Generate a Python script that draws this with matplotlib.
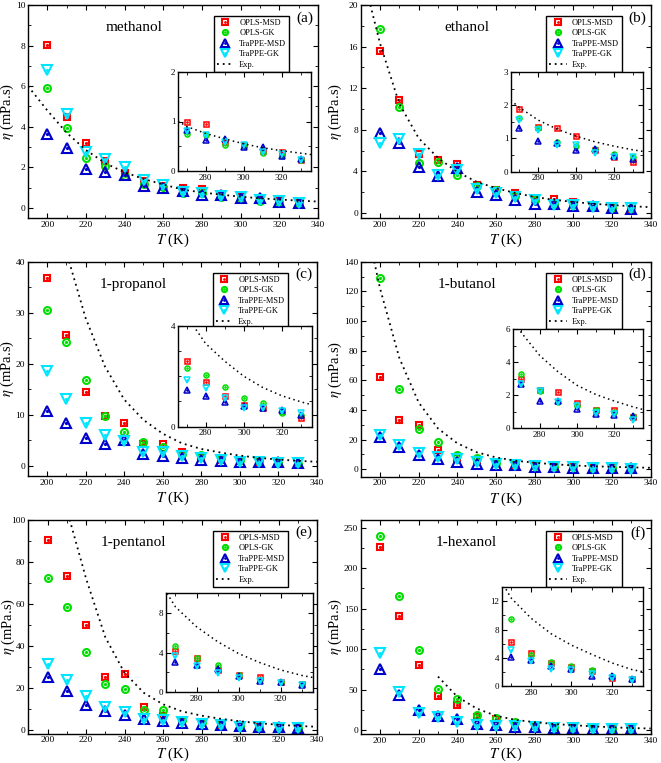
import matplotlib
matplotlib.use("Agg")
import matplotlib.pyplot as plt
from matplotlib.ticker import MultipleLocator
from matplotlib.legend_handler import HandlerTuple

plt.rcParams['font.family'] = ['Liberation Serif', 'DejaVu Serif']
plt.rcParams['mathtext.fontset'] = 'stix'

# ---------------- data ----------------
T = [200, 210, 220, 230, 240, 250, 260, 270, 280, 290, 300, 310, 320, 330]
series_labels = ['OPLS-MSD', 'OPLS-GK', 'TraPPE-MSD', 'TraPPE-GK']
panel_names = ['methanol', 'ethanol', '1-propanol', '1-butanol', '1-pentanol', '1-hexanol']
panel_letters = ['(a)', '(b)', '(c)', '(d)', '(e)', '(f)']

meth_opls_msd = [8.05, 4.5, 3.2, 2.3, 1.7, 1.3, 1.1, 0.98, 0.95, 0.58, 0.53, 0.41, 0.38, 0.22]
meth_opls_gk = [5.92, 3.93, 2.45, 2.05, 1.55, 1.2, 1.05, 0.74, 0.73, 0.53, 0.5, 0.36, 0.31, 0.22]
meth_trappe_msd = [3.65, 2.95, 1.9, 1.75, 1.62, 1.1, 1.0, 0.83, 0.63, 0.64, 0.49, 0.48, 0.31, 0.24]
meth_trappe_gk = [6.8, 4.65, 2.75, 2.4, 2.0, 1.35, 1.15, 0.8, 0.73, 0.58, 0.53, 0.39, 0.34, 0.22]
meth_exp_T = [190, 200, 210, 220, 230, 240, 250, 260, 270, 280, 290, 300, 310, 320, 330, 340]
meth_exp = [6.0, 4.8, 3.7, 2.85, 2.2, 1.75, 1.42, 1.15, 0.9, 0.76, 0.65, 0.55, 0.47, 0.41, 0.36, 0.31]

eth_opls_msd = [15.6, 10.9, 5.7, 5.15, 4.7, 2.7, 2.2, 1.9, 1.35, 1.32, 1.07, 0.65, 0.45, 0.3]
eth_opls_gk = [17.7, 10.2, 4.8, 4.9, 3.7, 2.6, 2.25, 1.62, 1.3, 0.88, 0.77, 0.68, 0.52, 0.45]
eth_trappe_msd = [7.7, 6.75, 4.45, 3.55, 4.35, 2.0, 1.7, 1.3, 0.92, 0.85, 0.65, 0.68, 0.47, 0.38]
eth_trappe_gk = [6.75, 7.1, 5.7, 3.7, 4.1, 2.3, 1.9, 1.57, 1.25, 0.8, 0.8, 0.55, 0.45, 0.45]
eth_exp_T = [195, 200, 210, 220, 230, 240, 250, 260, 270, 280, 290, 300, 310, 320, 330, 340]
eth_exp = [20.0, 16.3, 10.5, 7.2, 5.3, 3.95, 3.0, 2.4, 1.93, 1.55, 1.28, 1.07, 0.9, 0.77, 0.66, 0.57]

prop_opls_msd = [36.8, 25.7, 14.4, 9.8, 8.4, 4.3, 4.2, 2.62, 1.76, 1.2, 0.85, 0.75, 0.62, 0.35]
prop_opls_gk = [30.6, 24.2, 16.9, 9.8, 6.7, 4.6, 3.6, 2.32, 2.05, 1.56, 1.14, 0.94, 0.55, 0.44]
prop_trappe_msd = [10.8, 8.4, 5.4, 4.3, 5.1, 2.35, 2.0, 1.45, 1.2, 0.98, 0.8, 0.75, 0.67, 0.47]
prop_trappe_gk = [18.5, 13.1, 8.4, 6.1, 4.9, 2.8, 2.8, 1.85, 1.53, 1.15, 0.75, 0.72, 0.6, 0.52]
prop_exp_T = [211.5, 220, 230, 240, 250, 260, 270, 280, 290, 300, 310, 320, 330, 340]
prop_exp = [40.0, 29.0, 19.5, 13.0, 9.0, 6.3, 4.4, 3.3, 2.6, 2.0, 1.55, 1.22, 0.98, 0.78]

but_opls_msd = [62.0, 33.1, 29.8, 13.1, 7.5, 6.5, 4.2, 2.95, 2.3, 2.2, 1.52, 1.12, 1.12, 0.7]
but_opls_gk = [129.0, 54.3, 27.3, 18.7, 9.9, 7.7, 4.5, 3.3, 2.28, 1.57, 1.36, 1.08, 1.0, 0.75]
but_trappe_msd = [21.6, 15.3, 9.7, 7.0, 5.2, 3.6, 3.0, 2.65, 1.67, 1.63, 1.16, 0.87, 0.81, 0.77]
but_trappe_gk = [23.4, 16.7, 11.0, 8.1, 7.0, 4.7, 3.5, 2.7, 2.24, 1.57, 1.32, 0.95, 0.85, 0.5]
but_exp_T = [197, 200, 210, 220, 230, 240, 250, 260, 270, 280, 290, 300, 310, 320, 330, 340]
but_exp = [140.0, 122.0, 75.0, 45.0, 27.5, 17.5, 11.5, 8.0, 5.8, 4.4, 3.4, 2.6, 2.05, 1.65, 1.3, 1.0]

pent_opls_msd = [90.5, 73.0, 50.0, 24.9, 26.5, 10.6, 6.3, 4.17, 3.5, 2.2, 1.7, 1.53, 1.03, 0.83]
pent_opls_gk = [72.2, 58.6, 36.8, 21.7, 19.4, 9.5, 9.5, 4.7, 3.5, 2.77, 1.7, 1.27, 1.0, 0.83]
pent_trappe_msd = [24.9, 18.3, 11.9, 8.7, 6.8, 4.8, 4.0, 3.1, 2.77, 2.37, 1.6, 1.17, 1.0, 0.77]
pent_trappe_gk = [31.3, 23.5, 15.9, 10.6, 8.4, 5.2, 4.3, 3.7, 2.6, 1.93, 1.43, 1.1, 0.93, 0.77]
pent_exp_T = [211.5, 220, 230, 240, 250, 260, 270, 280, 290, 300, 310, 320, 330, 340]
pent_exp = [100.0, 72.0, 44.0, 27.0, 17.5, 12.0, 8.6, 6.6, 5.1, 3.9, 3.0, 2.25, 1.7, 1.3]

hex_opls_msd = [225.7, 140.7, 80.0, 42.0, 30.5, 16.0, 14.0, 6.26, 4.7, 3.3, 2.73, 2.1, 1.18, 1.04]
hex_opls_gk = [239.7, 165.8, 99.4, 50.3, 38.8, 18.0, 15.3, 9.46, 4.47, 3.39, 2.82, 2.35, 1.41, 1.08]
hex_trappe_msd = [75.9, 42.9, 24.3, 17.3, 14.0, 7.8, 5.8, 4.2, 3.76, 2.92, 2.45, 1.41, 1.41, 1.04]
hex_trappe_gk = [95.7, 47.0, 21.5, 16.0, 9.9, 6.6, 5.0, 5.18, 3.53, 2.45, 2.35, 1.74, 1.13, 0.94]
hex_exp_T = [230, 240, 250, 260, 270, 280, 290, 300, 310, 320, 330, 340]
hex_exp = [66.0, 41.0, 26.5, 17.5, 12.5, 9.6, 7.4, 5.8, 4.5, 3.3, 2.35, 1.8]

panel_series = [
    [meth_opls_msd, meth_opls_gk, meth_trappe_msd, meth_trappe_gk],
    [eth_opls_msd, eth_opls_gk, eth_trappe_msd, eth_trappe_gk],
    [prop_opls_msd, prop_opls_gk, prop_trappe_msd, prop_trappe_gk],
    [but_opls_msd, but_opls_gk, but_trappe_msd, but_trappe_gk],
    [pent_opls_msd, pent_opls_gk, pent_trappe_msd, pent_trappe_gk],
    [hex_opls_msd, hex_opls_gk, hex_trappe_msd, hex_trappe_gk],
]
panel_exp = [(meth_exp_T, meth_exp), (eth_exp_T, eth_exp), (prop_exp_T, prop_exp),
             (but_exp_T, but_exp), (pent_exp_T, pent_exp), (hex_exp_T, hex_exp)]

# ---------------- layout / style ----------------
W, H = 661, 763
fig = plt.figure(figsize=(W / 100, H / 100), dpi=100)

def rect(l, r, t, b):
    return [l / W, 1 - b / H, (r - l) / W, (b - t) / H]

main_rects = [
    rect(28, 318, 5, 218), rect(360.7, 650.7, 5, 218.3),
    rect(27.7, 317, 261.7, 476), rect(360.7, 650.7, 261.7, 476.7),
    rect(28.3, 317, 519.7, 733.7), rect(360.7, 650.7, 519.7, 734),
]
inset_rects = [
    rect(178, 311, 72, 171), rect(511, 643, 72, 171.7),
    rect(178, 311.5, 326, 426.5), rect(512.7, 643, 329, 428.3),
    rect(166, 313.3, 593, 692.3), rect(501.7, 643.3, 587, 686.3),
]
ylabel_x = [-0.04, -0.058, -0.04, -0.058, -0.04, -0.058]
xlabel_y = [-0.064, -0.064, -0.064, -0.064, -0.055, -0.055]
main_ylims = [(-0.5, 10), (-0.5, 20), (-2, 40), (-5, 140), (-2, 100), (-5, 260)]
main_ymaj = [2, 4, 10, 20, 20, 50]
inset_ylims = [(0, 2), (0, 3), (0, 4), (0, 6), (0, 10), (0, 14)]
inset_ymaj = [1, 1, 4, 2, 4, 4]
inset_ymin = [0.5, 0.5, 1, 1, 2, 2]

colors = ['#ff0000', '#00dd00', '#0000cc', '#00e5ff']
markers = ['s', 'o', '^', 'v']
main_ms = [5.0, 5.0, 7.5, 7.5]
inset_ms = [3.6, 3.6, 5.0, 5.0]

def style_axes(ax, fs):
    ax.tick_params(which='both', direction='in', top=True, right=True, labelsize=fs, pad=2)
    ax.tick_params(which='major', length=3.5, width=0.8)
    ax.tick_params(which='minor', length=2, width=0.6)
    for s in ax.spines.values():
        s.set_linewidth(1.0)

for i in range(6):
    ax = fig.add_axes(main_rects[i])
    handles = []
    for k in range(4):
        h1, = ax.plot(T, panel_series[i][k], linestyle='none', marker=markers[k],
                      ms=main_ms[k], mfc='none', mec=colors[k], mew=1.5)
        h2, = ax.plot(T, panel_series[i][k], linestyle='none', marker='o',
                      ms=1.3, mfc=colors[k], mec=colors[k])
        handles.append((h1, h2))
    he, = ax.plot(panel_exp[i][0], panel_exp[i][1], color='black', linestyle=(0, (1, 2.2)), lw=1.3)
    handles.append(he)
    ax.set_xlim(190, 340)
    ax.set_ylim(*main_ylims[i])
    ax.xaxis.set_major_locator(MultipleLocator(20))
    ax.xaxis.set_minor_locator(MultipleLocator(10))
    ax.yaxis.set_major_locator(MultipleLocator(main_ymaj[i]))
    ax.yaxis.set_minor_locator(MultipleLocator(main_ymaj[i] / 2))
    style_axes(ax, 6.8)
    ax.set_xlabel('$T$ (K)', fontsize=10.5)
    ax.set_ylabel(r'$\eta$ (mPa.s)', fontsize=10.5)
    ax.xaxis.set_label_coords(0.5, xlabel_y[i])
    ax.yaxis.set_label_coords(ylabel_x[i], 0.5)
    leg = ax.legend(handles, series_labels + ['Exp.'], loc='upper right',
                    bbox_to_anchor=(0.915, 0.968), fontsize=6, frameon=True,
                    fancybox=False, edgecolor='black', framealpha=1,
                    handler_map={tuple: HandlerTuple(ndivide=1)},
                    handlelength=2.1, handletextpad=0.6, labelspacing=0.3,
                    borderpad=0.35, markerscale=0.75)
    leg.get_frame().set_linewidth(1.0)
    ax.text(0.365, 0.895, panel_names[i], transform=ax.transAxes, fontsize=11,
            ha='center', va='center')
    ax.text(0.983, 0.94, panel_letters[i], transform=ax.transAxes, fontsize=11,
            ha='right', va='center')

    ai = fig.add_axes(inset_rects[i])
    for k in range(4):
        ai.plot(T, panel_series[i][k], linestyle='none', marker=markers[k],
                ms=inset_ms[k], mfc='none', mec=colors[k], mew=1.1)
        ai.plot(T, panel_series[i][k], linestyle='none', marker='o',
                ms=0.9, mfc=colors[k], mec=colors[k])
    ai.plot(panel_exp[i][0], panel_exp[i][1], color='black', linestyle=(0, (1, 2.2)), lw=1.1)
    ai.set_xlim(265.5, 335.5)
    ai.set_ylim(*inset_ylims[i])
    ai.xaxis.set_major_locator(MultipleLocator(20))
    ai.xaxis.set_minor_locator(MultipleLocator(10))
    ai.yaxis.set_major_locator(MultipleLocator(inset_ymaj[i]))
    ai.yaxis.set_minor_locator(MultipleLocator(inset_ymin[i]))
    style_axes(ai, 6.5)

fig.savefig('out.png', dpi=100)
